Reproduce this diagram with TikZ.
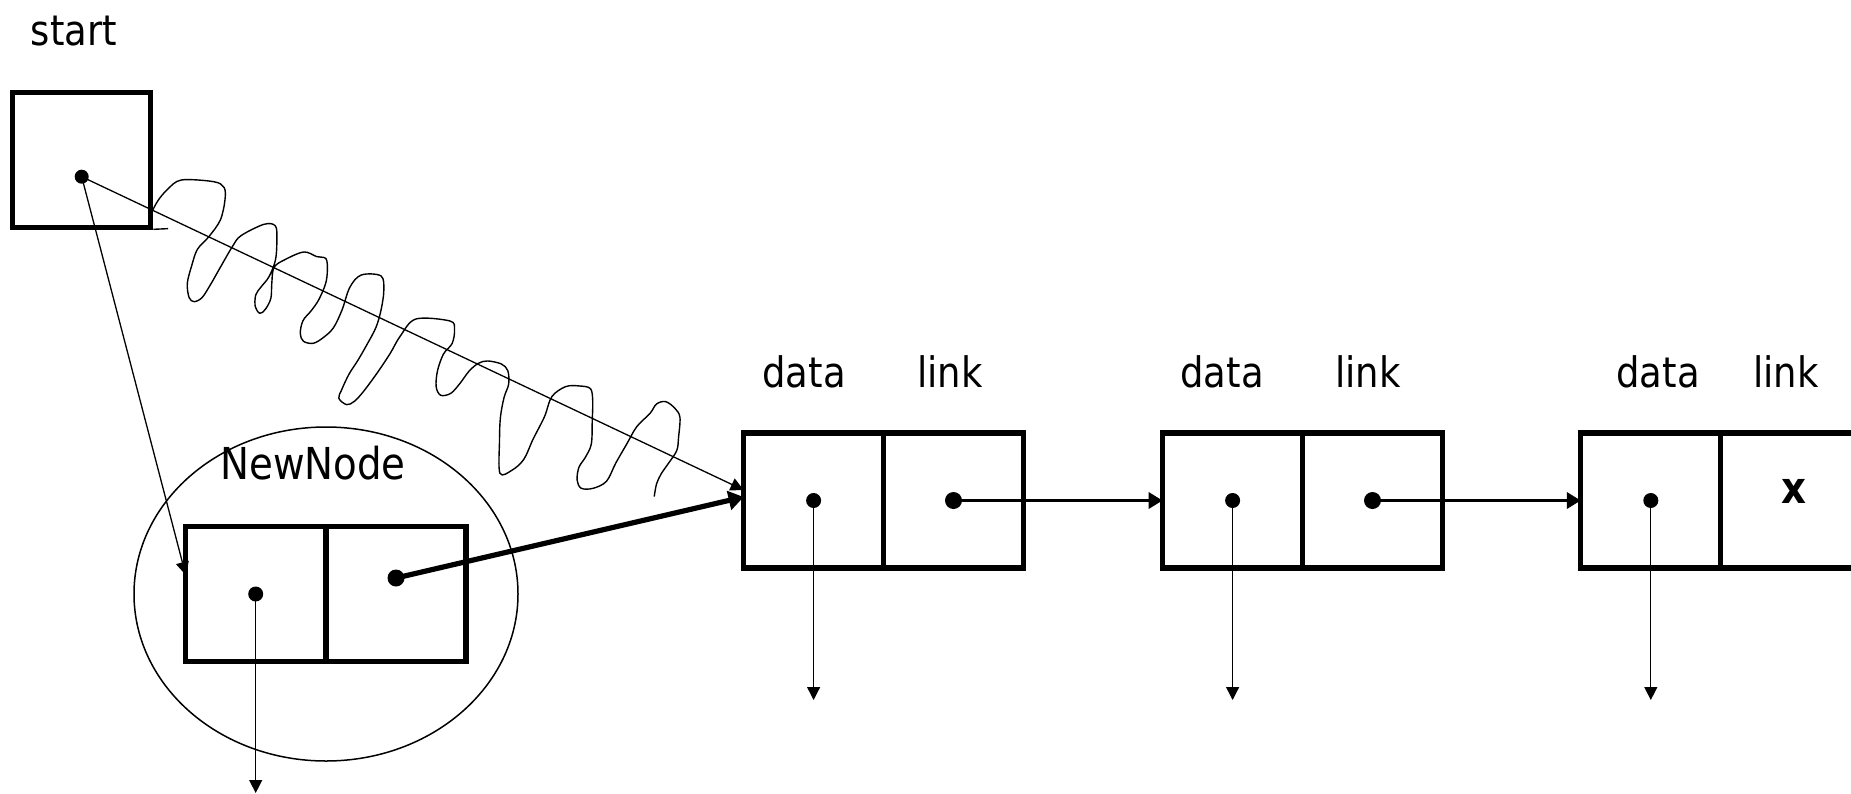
\documentclass[tikz,border=0pt]{standalone}
\usepackage{fontspec}
\setmainfont{DejaVu Sans}[FakeStretch=0.88]
\usetikzlibrary{arrows.meta,calc,shapes.geometric}
\begin{document}
\begin{tikzpicture}[x=0.5pt,y=-0.5pt,
  cell/.style={draw,line width=2.6pt,minimum width=70pt,minimum height=67.5pt,inner sep=0pt,outer sep=0pt},
  lbl/.style={font=\fontsize{21pt}{25pt}\selectfont,anchor=base,inner sep=0pt},
  datadot/.style={circle,fill,inner sep=0pt,minimum size=7.5pt},
  linkdot/.style={circle,fill,inner sep=0pt,minimum size=8.5pt},
  downarrow/.style={line width=0.65pt,-{Triangle[length=6.5pt,width=6.5pt]}},
  linkarrow/.style={line width=1.9pt,-{Triangle[length=7pt,width=8pt]}},
  newarrow/.style={line width=2.6pt,-{Triangle[length=7.5pt,width=9.5pt]}},
  pointer/.style={line width=0.65pt,-{Triangle[length=6.5pt,width=6.5pt]}},
  scribble/.style={line width=0.7pt}]
\useasboundingbox (0,0) rectangle (1851,793);

% start pointer
\node[lbl] (startlbl) at (74,45) {start};
\node[cell,minimum width=69pt] (start) at (81.5,160.3) {};
\node[datadot,minimum size=7pt] (sdot) at (81.7,176.7) {};

% NewNode with its surrounding ellipse
\node[ellipse,draw,line width=0.75pt,minimum width=192pt,minimum height=167pt,inner sep=0pt] (ring) at (326,594) {};
\node[lbl,font=\fontsize{22pt}{26pt}\selectfont] (nnlbl) at (313,479) {NewNode};
\node[cell] (nnd) at (255.7,594) {};
\node[cell] (nnl) at (396,594) {};
\node[datadot] (nndot) at (nnd.center) {};
\node[linkdot] (nnldot) at (396,578) {};

% list nodes
\node[cell] (n1d) at (813.6,500.5) {};
\node[cell] (n1l) at (953.5,500.5) {};
\node[cell] (n2d) at (1232.6,500.5) {};
\node[cell] (n2l) at (1372.5,500.5) {};
\node[cell] (n3d) at (1650.8,500.5) {};
\node[cell] (n3l) at (1790.8,500.5) {};

\node[lbl] (d1) at (804,387) {data};
\node[lbl] (l1) at (950,387) {link};
\node[lbl] (d2) at (1222,387) {data};
\node[lbl] (l2) at (1368,387) {link};
\node[lbl] (d3) at (1658,387) {data};
\node[lbl] (l3) at (1786,387) {link};
\node[lbl,font=\fontsize{22pt}{26pt}\selectfont\bfseries] (nil) at (1794,503) {x};

\node[datadot] (p1) at (n1d.center) {};
\node[linkdot] (q1) at (n1l.center) {};
\node[datadot] (p2) at (n2d.center) {};
\node[linkdot] (q2) at (n2l.center) {};
\node[datadot] (p3) at (n3d.center) {};

% data pointers
\coordinate (e0) at (255.7,793);
\coordinate (e1) at (813.6,700);
\coordinate (e2) at (1232.6,700);
\coordinate (e3) at (1650.8,700);
\draw[downarrow] (nndot.center) -- (e0);
\draw[downarrow] (p1.center) -- (e1);
\draw[downarrow] (p2.center) -- (e2);
\draw[downarrow] (p3.center) -- (e3);

% links
\draw[linkarrow] (q1.center) -- (n2d.west);
\draw[linkarrow] (q2.center) -- (n3d.west);
\draw[newarrow] (nnldot.center) -- ($(n1d.west)+(0,-3.5)$);
\draw[pointer] (sdot.center) -- ($(n1d.west)+(0,-10.5)$);
\draw[pointer] (sdot.center) -- ($(nnd.west)+(0,-19)$);

% hand-drawn scribble over the old start link
\begin{scope}[xscale=0.4591,yscale=0.3333]
\draw[scribble] (334,688) -- (366,686);
\draw[scribble] plot[smooth,tension=0.55] coordinates {
 (332,632) (345,600) (365,568) (395,540) (465,545) (488,562) (490,600) (480,660)
 (455,710) (430,748) (418,795) (408,850) (412,893) (423,905) (440,893) (458,855)
 (482,797) (507,738) (525,707) (575,673) (600,678) (603,722) (600,780) (586,830)
 (568,862) (557,885) (556,920) (566,940) (578,928) (590,895) (592,850) (597,802)
 (622,778) (662,756) (690,770) (710,776) (713,812) (709,852) (694,900) (678,932)
 (660,962) (654,1000) (661,1024) (682,1030) (703,1014) (726,984) (745,930) (762,862)
 (787,825) (830,828) (836,872) (830,930) (819,982) (800,1032) (780,1080) (760,1123)
 (744,1170) (738,1195) (755,1214) (772,1204) (792,1174) (822,1118) (850,1060) (872,1008)
 (906,957) (980,963) (990,988) (985,1030) (966,1062) (953,1112) (950,1160) (960,1186)
 (982,1180) (1002,1150) (1022,1113) (1042,1090) (1062,1083) (1092,1092) (1106,1112) (1108,1152)
 (1098,1192) (1090,1252) (1088,1322) (1089,1420) (1116,1410) (1141,1378) (1161,1318) (1186,1250)
 (1202,1190) (1232,1160) (1262,1158) (1286,1166) (1291,1202) (1290,1262) (1288,1332) (1275,1372)
 (1261,1402) (1257,1440) (1266,1465) (1292,1465) (1321,1444) (1341,1390) (1366,1330) (1387,1280)
 (1416,1240) (1430,1212) (1450,1205) (1470,1225) (1481,1252) (1478,1312) (1474,1352) (1455,1392)
 (1440,1422) (1430,1452) (1425,1490)};
\end{scope}
\end{tikzpicture}
\end{document}
